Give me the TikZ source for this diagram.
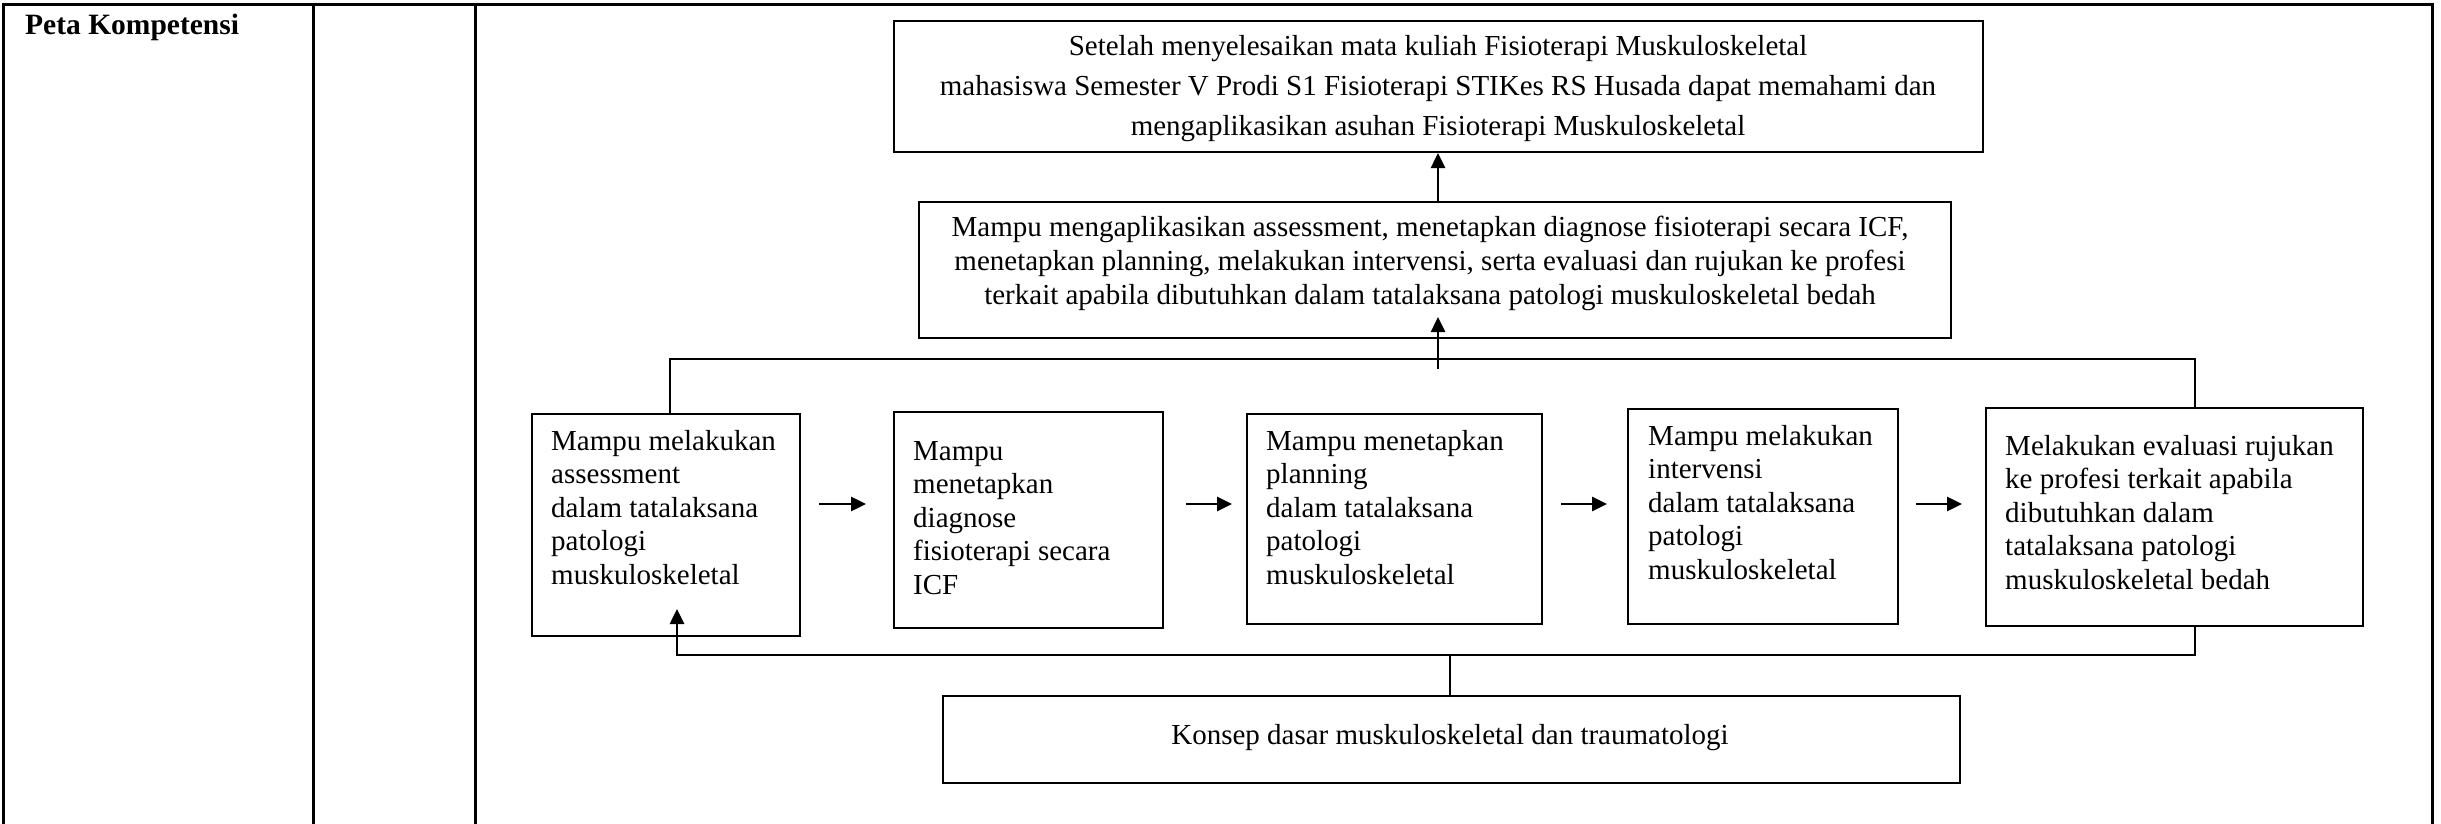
\documentclass[tikz,border=0pt]{standalone}
\usepackage{fontspec}
\setmainfont{Liberation Serif}
\usetikzlibrary{arrows.meta}
\begin{document}
\begin{tikzpicture}[x=1pt,y=-1pt,
  frame/.style={draw, line width=2pt, inner sep=0pt, anchor=north west},
  txt/.style={font=\fontsize{29}{33.5}\selectfont, align=left, inner sep=0pt, anchor=north west},
  ctxt/.style={font=\fontsize{29}{#1}\selectfont, align=center, inner sep=0pt, anchor=north},
  conn/.style={line width=1.8pt},
  arr/.style={line width=2.6pt, -{Triangle[length=15pt,width=14pt]}},
  grid/.style={line width=3pt}]
\useasboundingbox (0,0) rectangle (2441,824);
% table frame
\draw[grid] (3,824) -- (3,5) -- (2432,5) -- (2432,824);
\draw[grid] (313,5) -- (313,824);
\draw[grid] (475,5) -- (475,824);
\node[font=\fontsize{29.5}{34}\selectfont\bfseries, inner sep=0pt, anchor=base west] (title) at (25,35) {Peta Kompetensi};
% boxes
\node[frame, minimum width=1089pt, minimum height=131pt] (goal) at (893,20) {};
\node[ctxt=40] (goalt) at (1438,35) {Setelah menyelesaikan mata kuliah Fisioterapi Muskuloskeletal\\mahasiswa Semester V Prodi S1 Fisioterapi STIKes RS Husada dapat memahami dan\\mengaplikasikan asuhan Fisioterapi Muskuloskeletal};
\node[frame, minimum width=1032pt, minimum height=136pt] (mid) at (918,201) {};
\node[ctxt=34] (midt) at (1430,216) {Mampu mengaplikasikan assessment, menetapkan diagnose fisioterapi secara ICF,\\menetapkan planning, melakukan intervensi, serta evaluasi dan rujukan ke profesi\\terkait apabila dibutuhkan dalam tatalaksana patologi muskuloskeletal bedah};
\node[frame, minimum width=268pt, minimum height=222pt] (b1) at (531,413) {};
\node[txt] (t1) at (551,430) {Mampu melakukan\\assessment\\dalam tatalaksana\\patologi\\muskuloskeletal};
\node[frame, minimum width=269pt, minimum height=216pt] (b2) at (893,411) {};
\node[txt] (t2) at (913,441) {Mampu\\menetapkan\\diagnose\\fisioterapi secara\\ICF};
\node[frame, minimum width=295pt, minimum height=210pt] (b3) at (1246,413) {};
\node[txt] (t3) at (1266,430) {Mampu menetapkan\\planning\\dalam tatalaksana\\patologi\\muskuloskeletal};
\node[frame, minimum width=270pt, minimum height=215pt] (b4) at (1627,408) {};
\node[txt] (t4) at (1648,425) {Mampu melakukan\\intervensi\\dalam tatalaksana\\patologi\\muskuloskeletal};
\node[frame, minimum width=377pt, minimum height=218pt] (b5) at (1985,407) {};
\node[txt] (t5) at (2005,435) {Melakukan evaluasi rujukan\\ke profesi terkait apabila\\dibutuhkan dalam\\tatalaksana patologi\\muskuloskeletal bedah};
\node[frame, minimum width=1017pt, minimum height=87pt] (base) at (942,695) {};
\node[font=\fontsize{29}{34}\selectfont, inner sep=0pt] (baset) at (1450,738) {Konsep dasar muskuloskeletal dan traumatologi};
% connectors
\coordinate (tl) at (670,359);
\coordinate (tr) at (2195,359);
\draw[conn] (tl |- b1.north) -- (tl) -- (tr) -- (tr |- b5.north);
\coordinate (up1) at (1438,369);
\coordinate (tip1) at (1438,317);
\draw[arr] (up1) -- (tip1);
\draw[arr] (mid.north -| up1) -- (goal.south -| up1);
\coordinate (bl) at (677,655);
\coordinate (br) at (2195,655);
\coordinate (tip2) at (677,609);
\draw[conn] (br |- b5.south) -- (br) -- (bl) -- (bl |- b1.south);
\draw[arr] (bl) -- (tip2);
\coordinate (bm) at (1450,655);
\draw[conn] (bm) -- (bm |- base.north);
% flow arrows
\coordinate (a1s) at (819,504); \coordinate (a1e) at (866,504);
\coordinate (a2s) at (1186,504); \coordinate (a2e) at (1232,504);
\coordinate (a3s) at (1561,504); \coordinate (a3e) at (1607,504);
\coordinate (a4s) at (1916,504); \coordinate (a4e) at (1962,504);
\draw[arr] (a1s) -- (a1e);
\draw[arr] (a2s) -- (a2e);
\draw[arr] (a3s) -- (a3e);
\draw[arr] (a4s) -- (a4e);
\end{tikzpicture}
\end{document}
